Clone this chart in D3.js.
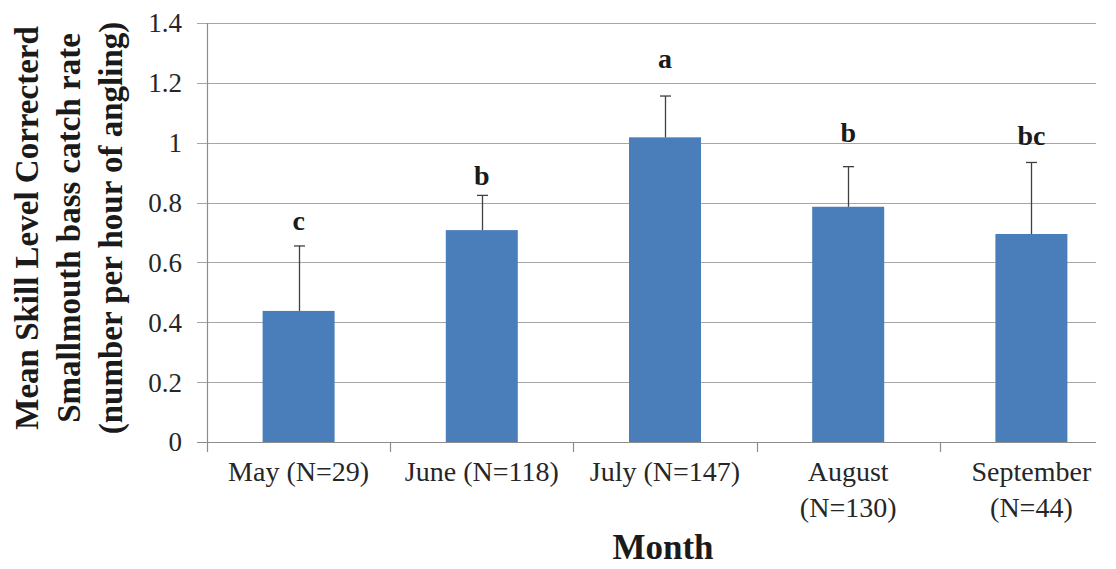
<!DOCTYPE html>
<html>
<head>
<meta charset="utf-8">
<script src="https://cdn.jsdelivr.net/npm/d3@7"></script>
<style>
  html, body { margin: 0; padding: 0; background: #ffffff; }
  svg { display: block; }
</style>
</head>
<body>
<svg id="chart" width="1116" height="569"></svg>
<script>
// ---- data ----
const categories = ["May (N=29)", "June (N=118)", "July (N=147)", "August (N=130)", "September (N=44)"];
const categoryLines = [["May (N=29)"], ["June (N=118)"], ["July (N=147)"], ["August", "(N=130)"], ["September", "(N=44)"]];
const meanRate = [0.438, 0.708, 1.018, 0.786, 0.695];
const errorTop = [0.655, 0.824, 1.156, 0.920, 0.934];
const sigLetters = ["c", "b", "a", "b", "bc"];
const letterLevel = [0.708, 0.859, 1.250, 1.002, 0.992];
const yTicks = [0, 0.2, 0.4, 0.6, 0.8, 1, 1.2, 1.4];
const yTitleLines = ["Mean Skill Level Correcterd", "Smallmouth bass catch rate", "(number per hour of angling)"];
const xTitle = "Month";

// ---- layout ----
const svg = d3.select("#chart");
const plotLeft = 207, plotRight = 1123, plotTop = 23, plotBottom = 442;
const serif = "'Liberation Serif', 'Times New Roman', serif";

const x = d3.scaleBand().domain(categories).range([plotLeft, plotRight]).padding(0);
const y = d3.scaleLinear().domain([0, 1.4]).range([plotBottom, plotTop]);
const barW = x.bandwidth() * 0.393;

// gridlines (with short tick stubs to the left of the axis)
svg.append("g").selectAll("line").data(yTicks).join("line")
  .attr("x1", plotLeft - 10).attr("x2", 1096)
  .attr("y1", d => Math.round(y(d)) + 0.5).attr("y2", d => Math.round(y(d)) + 0.5)
  .attr("stroke", d => d === 0 ? "#8c8c8c" : "#a6a6a6").attr("stroke-width", 1.2);

// y axis line
svg.append("line")
  .attr("x1", plotLeft + 0.5).attr("x2", plotLeft + 0.5)
  .attr("y1", Math.round(y(1.4))).attr("y2", Math.round(y(0)) + 1)
  .attr("stroke", "#8c8c8c").attr("stroke-width", 1.2);

// category tick marks at band boundaries
const boundaries = categories.map(c => x(c)).concat([x(categories[categories.length - 1]) + x.bandwidth()]);
svg.append("g").selectAll("line").data(boundaries).join("line")
  .attr("x1", d => Math.round(d) + 0.5).attr("x2", d => Math.round(d) + 0.5)
  .attr("y1", plotBottom).attr("y2", plotBottom + 10)
  .attr("stroke", "#8c8c8c").attr("stroke-width", 1.2);

// y tick labels
svg.append("g").selectAll("text").data(yTicks).join("text")
  .attr("x", 182).attr("y", d => y(d))
  .attr("dy", "0.35em")
  .attr("text-anchor", "end")
  .attr("font-family", serif).attr("font-size", 27).attr("fill", "#262626")
  .text(d => d3.format("~g")(d));

// bars
svg.append("g").selectAll("rect").data(categories).join("rect")
  .attr("x", (c) => x(c) + x.bandwidth() / 2 - barW / 2)
  .attr("y", (c, i) => y(meanRate[i]))
  .attr("width", barW)
  .attr("height", (c, i) => y(0) - y(meanRate[i]))
  .attr("fill", "#4a7ebb");

// error bars (upper only)
const eb = svg.append("g").attr("stroke", "#404040").attr("stroke-width", 1.3);
categories.forEach((c, i) => {
  const cx = Math.round(x(c) + x.bandwidth() / 2) + 0.5;
  eb.append("line").attr("x1", cx).attr("x2", cx)
    .attr("y1", y(meanRate[i])).attr("y2", y(errorTop[i]));
  eb.append("line").attr("x1", cx - 5.5).attr("x2", cx + 5.5)
    .attr("y1", y(errorTop[i])).attr("y2", y(errorTop[i]));
});

// significance letters
svg.append("g").selectAll("text").data(categories).join("text")
  .attr("x", c => x(c) + x.bandwidth() / 2)
  .attr("y", (c, i) => y(letterLevel[i]))
  .attr("text-anchor", "middle")
  .attr("font-family", serif).attr("font-weight", "bold").attr("font-size", 28).attr("fill", "#1a1a1a")
  .text((c, i) => sigLetters[i]);

// category labels
const catG = svg.append("g");
categories.forEach((c, i) => {
  const t = catG.append("text")
    .attr("x", x(c) + x.bandwidth() / 2).attr("y", 481)
    .attr("text-anchor", "middle")
    .attr("font-family", serif).attr("font-size", 28).attr("fill", "#262626");
  categoryLines[i].forEach((ln, j) => {
    t.append("tspan").attr("x", x(c) + x.bandwidth() / 2).attr("dy", j === 0 ? 0 : 36).text(ln);
  });
});

// x axis title
svg.append("text")
  .attr("x", 663).attr("y", 559)
  .attr("text-anchor", "middle")
  .attr("font-family", serif).attr("font-weight", "bold").attr("font-size", 35).attr("fill", "#1a1a1a")
  .text(xTitle);

// y axis title (rotated, 3 lines)
const yt = svg.append("text")
  .attr("transform", "translate(38,228) rotate(-90)")
  .attr("text-anchor", "middle")
  .attr("font-family", serif).attr("font-weight", "bold").attr("font-size", 33).attr("fill", "#1a1a1a");
yTitleLines.forEach((ln, j) => {
  yt.append("tspan").attr("x", 0).attr("dy", j === 0 ? 0 : 42).text(ln);
});
</script>
</body>
</html>
